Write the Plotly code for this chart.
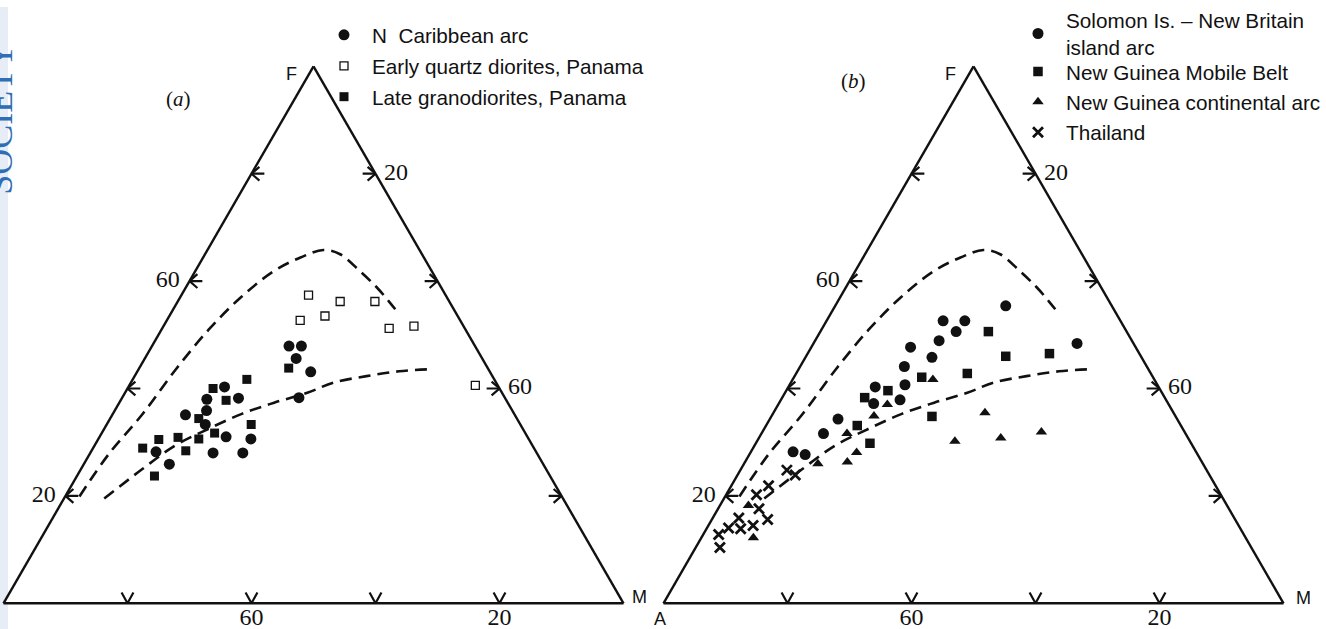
import math
import plotly.graph_objects as go

# ---------------- data : AFM percentages ----------------
# (a) N Caribbean arc
CARIB_A = [30.0, 28.0, 30.0, 28.9, 33.2, 44.2, 43.0, 48.2, 49.3, 53.1, 50.8, 48.6, 44.8, 52.2, 47.4, 61.3, 60.3]
CARIB_F = [47.9, 47.9, 45.6, 43.1, 38.3, 40.3, 38.2, 38.0, 35.9, 35.1, 33.3, 31.0, 30.6, 28.0, 28.0, 28.2, 25.9]
CARIB_M = [22.1, 24.1, 24.4, 28.0, 28.5, 15.5, 18.8, 13.8, 14.8, 11.8, 15.9, 20.4, 24.6, 19.8, 24.6, 10.5, 13.8]

# (a) Early quartz diorites, Panama
EARLY_A = [22.1, 17.6, 12.0, 25.8, 21.4, 12.2, 8.0, 3.6]
EARLY_F = [57.4, 56.2, 56.2, 52.7, 53.5, 51.2, 51.6, 40.6]
EARLY_M = [20.5, 26.2, 31.8, 21.5, 25.1, 36.6, 40.4, 55.8]

# (a) Late granodiorites, Panama
LATE_A = [32.1, 39.9, 46.2, 45.2, 51.3, 43.4, 50.1, 53.2, 56.4, 59.7, 63.1, 56.4, 63.8]
LATE_F = [43.8, 41.7, 40.0, 37.8, 34.4, 33.3, 31.7, 30.6, 30.9, 30.5, 28.9, 28.4, 23.7]
LATE_M = [24.1, 18.4, 13.8, 17.0, 14.3, 23.3, 18.2, 16.2, 12.7, 9.8, 8.0, 15.2, 12.5]

# (b) Solomon Is. - New Britain island arc
SOLO_A = [45.7, 47.5, 42.9, 54.7, 58.4, 65.0, 63.3, 39.1, 40.7, 17.1, 28.6, 25.1, 27.5, 31.1, 36.3, 33.8, 9.1]
SOLO_F = [40.3, 37.2, 37.9, 34.3, 31.6, 28.2, 27.7, 44.1, 40.7, 55.4, 52.6, 52.6, 50.6, 48.9, 47.7, 45.8, 48.4]
SOLO_M = [14.0, 15.3, 19.2, 11.0, 10.0, 6.8, 9.0, 16.8, 18.6, 27.5, 18.8, 22.3, 21.9, 20.0, 16.0, 20.4, 42.5]

# (b) New Guinea Mobile Belt
MOB_A = [48.4, 44.0, 52.2, 51.8, 22.3, 21.8, 14.5, 37.3, 29.6, 39.3]
MOB_F = [38.3, 39.6, 33.1, 29.8, 50.6, 46.0, 46.5, 42.1, 42.8, 34.8]
MOB_M = [13.3, 16.4, 14.7, 18.4, 27.1, 32.2, 39.0, 20.6, 27.6, 25.9]

# (b) New Guinea continental arc
CONT_A = [45.4, 48.6, 54.6, 54.8, 57.2, 62.1, 35.7, 30.4, 37.9, 30.2, 23.1, 77.2, 79.4]
CONT_F = [37.0, 34.9, 31.6, 28.1, 26.3, 26.0, 41.7, 35.5, 30.2, 30.8, 31.9, 18.2, 12.2]
CONT_M = [17.6, 16.5, 13.8, 17.1, 16.5, 11.9, 22.6, 34.1, 31.9, 39.0, 45.0, 4.6, 8.4]

# (b) Thailand
THAI_A = [67.7, 66.8, 72.1, 74.9, 75.8, 79.9, 75.4, 82.5, 80.6, 78.3, 84.7, 85.7]
THAI_F = [24.8, 23.9, 21.9, 20.2, 17.6, 15.9, 15.6, 14.0, 13.9, 14.5, 12.8, 10.4]
THAI_M = [7.5, 9.3, 6.0, 4.9, 6.6, 4.2, 9.0, 3.5, 5.5, 7.2, 2.5, 3.9]

# dashed boundary curves (same in both diagrams)
UPPER_A = [77.8, 69.0, 60.0, 50.5, 41.5, 33.2, 25.4, 19.9, 15.5, 13.2, 11.6, 10.4, 9.7, 9.3]
UPPER_F = [19.9, 27.9, 35.2, 43.5, 50.9, 57.0, 61.9, 64.4, 65.8, 65.0, 61.9, 58.9, 56.1, 54.0]
UPPER_M = [2.3, 3.1, 4.8, 6.0, 7.6, 9.8, 12.7, 15.7, 18.7, 21.8, 26.5, 30.7, 34.2, 36.7]

LOWER_A = [74.0, 65.1, 57.6, 50.8, 44.0, 37.7, 31.4, 26.2, 20.3, 14.6, 9.2]
LOWER_F = [19.5, 25.0, 29.4, 32.5, 35.2, 37.4, 39.2, 41.1, 42.3, 43.2, 43.6]
LOWER_M = [6.5, 9.9, 13.0, 16.8, 20.7, 25.0, 29.4, 32.7, 37.4, 42.2, 47.2]

TICK_VALUES = [20, 40, 60, 80]
LABEL_VALUES = [20, 60]
LABEL_TEXT = ["20", "60"]

# ---------------- geometry / style ----------------
W, H = 1326, 629
SIDE_PX = 627.0
UNIT = SIDE_PX / 100.0          # pixels per percent
S3 = math.sqrt(3.0)

LEFT_ARROW = [[(13, 0), (0, 0)], [(8, 7), (0, 0), (8, -7)]]
RIGHT_ARROW = [[(-13, 0), (0, 0)], [(-8, 7), (0, 0), (-8, -7)]]
BASE_V = [[(-6, 11), (0, 0), (6, 11)]]


def to_abc(x, y):
    a = 2.0 * y / S3
    c = x - a / 2.0
    b = 100.0 - a - c
    return [max(0.0, round(v, 6)) for v in (a, b, c)]


def tick_marks(values):
    A, B, C = [], [], []

    def add(tx, ty, strokes):
        for stroke in strokes:
            for dx, dy in stroke:
                a, b, c = to_abc(tx + dx / UNIT, ty + dy / UNIT)
                A.append(a); B.append(b); C.append(c)
            A.append(None); B.append(None); C.append(None)

    for v in values:
        add(v / 2.0, v * S3 / 2.0, LEFT_ARROW)                       # F axis (left edge)
        add(v + (100 - v) / 2.0, (100 - v) * S3 / 2.0, RIGHT_ARROW)  # M axis (right edge)
        add(100.0 - v, 0.0, BASE_V)                                  # A axis (base)
    return A, B, C


SERIF = "Liberation Serif"
SANS = "Liberation Sans"
BLACK = "#111111"
CLEAR = "rgba(0,0,0,0)"

fig = go.Figure()


def label_trace(sub, a, b, c, pos, pad):
    return go.Scatterternary(
        subplot=sub, a=a, b=b, c=c, mode="markers+text", text=LABEL_TEXT, textposition=pos,
        marker=dict(size=pad, color=CLEAR, line=dict(width=0)),
        textfont=dict(family=SERIF, size=24, color=BLACK),
        showlegend=False, hoverinfo="skip", cliponaxis=False)


def add_panel(sub, series):
    # boundary curves
    for ca, cf, cm in ((UPPER_A, UPPER_F, UPPER_M), (LOWER_A, LOWER_F, LOWER_M)):
        fig.add_trace(go.Scatterternary(
            subplot=sub, a=cf, b=ca, c=cm, mode="lines", line_shape="spline",
            line=dict(color=BLACK, width=2.6, dash="12px,7px"),
            showlegend=False, hoverinfo="skip", cliponaxis=False))
    # tick chevrons
    ta, tb, tc = tick_marks(TICK_VALUES)
    fig.add_trace(go.Scatterternary(
        subplot=sub, a=ta, b=tb, c=tc, mode="lines",
        line=dict(color=BLACK, width=2.2), showlegend=False,
        hoverinfo="skip", cliponaxis=False, connectgaps=False))
    # tick labels: F on the left edge, M on the right edge, A on the base
    comp = [100 - v for v in LABEL_VALUES]
    zero = [0 for _ in LABEL_VALUES]
    fig.add_trace(label_trace(sub, LABEL_VALUES, comp, zero, "middle left", 14))
    fig.add_trace(label_trace(sub, comp, zero, LABEL_VALUES, "middle right", 12))
    fig.add_trace(label_trace(sub, zero, LABEL_VALUES, comp, "bottom center", 5))
    # data series
    for i, (name, sa, sf, sm, marker, leg) in enumerate(series):
        fig.add_trace(go.Scatterternary(
            subplot=sub, a=sf, b=sa, c=sm, mode="markers", name=name,
            marker=marker, legend=leg, legendgroup=f"{sub}{i}",
            cliponaxis=False, hoverinfo="a+b+c"))


add_panel("ternary", [
    ("N  Caribbean arc", CARIB_A, CARIB_F, CARIB_M,
     dict(symbol="circle", size=11, color=BLACK), "legend"),
    ("Early quartz diorites, Panama", EARLY_A, EARLY_F, EARLY_M,
     dict(symbol="square-open", size=8, color=BLACK, line=dict(width=1.3, color=BLACK)), "legend"),
    ("Late granodiorites, Panama", LATE_A, LATE_F, LATE_M,
     dict(symbol="square", size=9, color=BLACK), "legend"),
])
add_panel("ternary2", [
    ("Solomon Is. – New Britain<br>island arc", SOLO_A, SOLO_F, SOLO_M,
     dict(symbol="circle", size=11, color=BLACK), "legend3"),
    ("New Guinea Mobile Belt", MOB_A, MOB_F, MOB_M,
     dict(symbol="square", size=9.5, color=BLACK), "legend2"),
    ("New Guinea continental arc", CONT_A, CONT_F, CONT_M,
     dict(symbol="triangle-up", size=10, color=BLACK), "legend2"),
    ("Thailand", THAI_A, THAI_F, THAI_M,
     dict(symbol="x-thin", size=10, color=BLACK, line=dict(width=2.8, color=BLACK)), "legend2"),
])

axis = dict(showline=True, linecolor=BLACK, linewidth=2.4, showgrid=False,
            ticks="", showticklabels=False, title=dict(text=""), min=0)


def ternary_layout(x0, x1):
    return dict(domain=dict(x=[x0, x1], y=[0.041335, 0.904611]), sum=100,
                bgcolor="white", aaxis=axis, baxis=axis, caxis=axis)


def px(x):
    return x / W


def py(y):
    return 1 - y / H


def legend_at(x, y, gap, size=20.7):
    return dict(x=px(x), y=py(y), xanchor="left", yanchor="top",
                font=dict(family=SANS, size=size, color=BLACK), bgcolor=CLEAR,
                itemsizing="trace", itemwidth=46, tracegroupgap=gap,
                itemclick=False, itemdoubleclick=False)


def note(text, x, y, family, size, **kw):
    return dict(text=text, x=px(x), y=py(y), xref="paper", yref="paper", showarrow=False,
                xanchor="center", yanchor="middle", font=dict(family=family, size=size, color=BLACK), **kw)


fig.update_layout(
    width=W, height=H, margin=dict(l=0, r=0, t=0, b=0),
    paper_bgcolor="white", plot_bgcolor="white",
    ternary=ternary_layout(0.0, 627 / W),
    ternary2=ternary_layout((973.5 - 313.5) / W, (973.5 + 313.5) / W),
    legend=legend_at(316, 8, 1),
    legend2=legend_at(1010, 45, 0.5),
    legend3=legend_at(1010, -7, 0),
    shapes=[dict(type="rect", xref="paper", yref="paper", x0=0, x1=px(8), y0=0, y1=1,
                 fillcolor="#e7edf7", line=dict(width=0), layer="below")],
    annotations=[
        dict(text="SOCIETY", x=0, y=py(113), xref="paper", yref="paper", showarrow=False,
             xanchor="center", yanchor="middle", textangle=-90,
             font=dict(family=SERIF, size=36, color="#2f6db5")),
        note("(<i>a</i>)", 178, 93, SERIF, 21),
        note("(<i>b</i>)", 853, 75, SERIF, 21),
        note("F", 291, 68, SANS, 18),
        note("M", 639, 597, SANS, 18),
        note("F", 950, 68, SANS, 18),
        note("M", 1303, 598, SANS, 18),
        note("A", 660, 619, SANS, 18),
    ],
)

fig.write_html("out.html")
